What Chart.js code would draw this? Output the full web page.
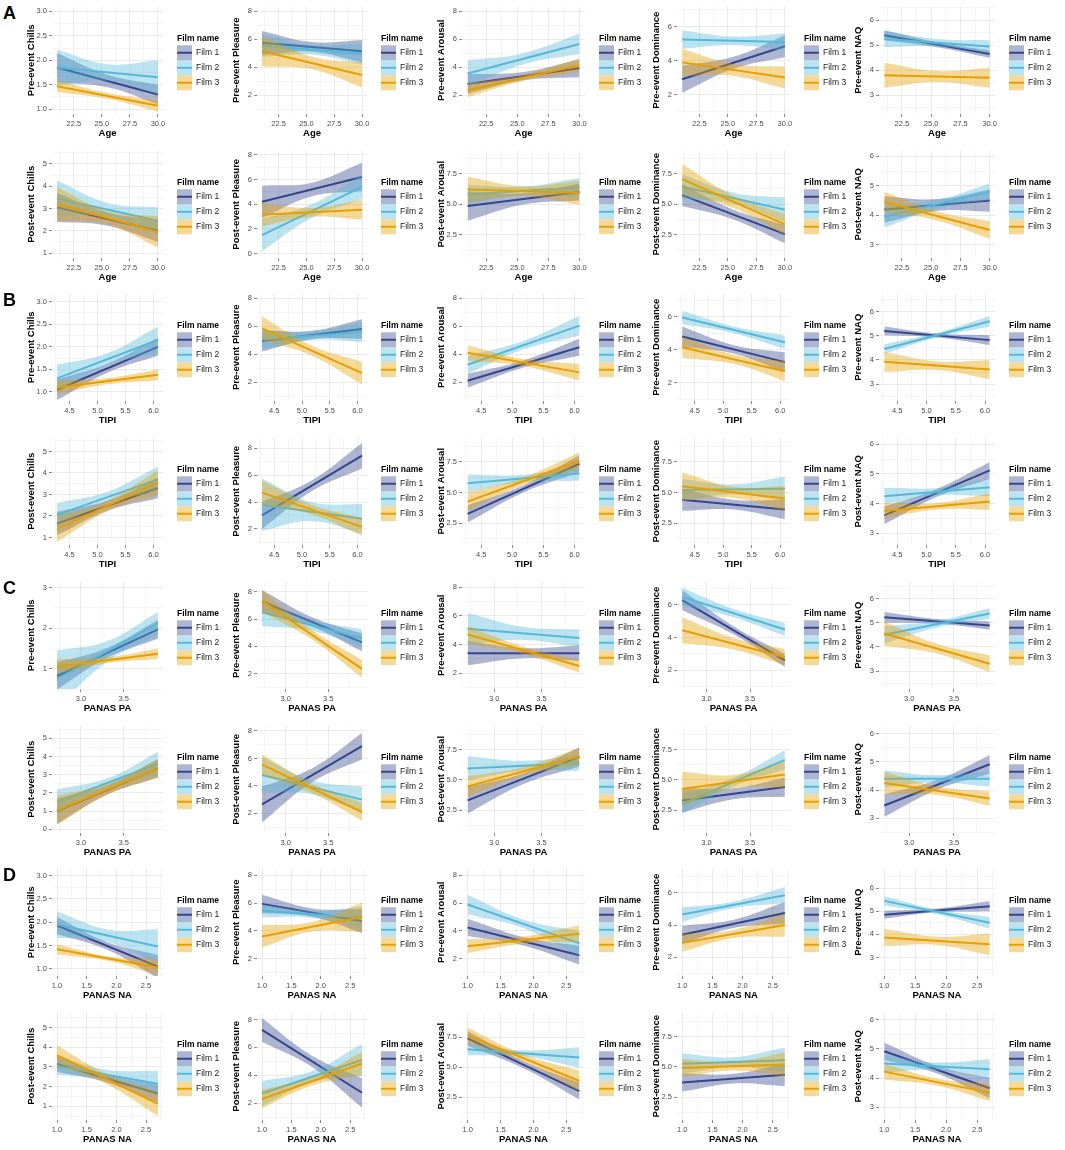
<!DOCTYPE html>
<html>
<head>
<meta charset="utf-8">
<script src="https://cdn.jsdelivr.net/npm/chart.js@4.4.1/dist/chart.umd.min.js"></script>
<style>
  body { margin: 0; background: #fff; width: 1065px; height: 1150px; position: relative; overflow: hidden; }
  canvas { position: absolute; }
  .tag { position: absolute; left: 3px; font: bold 18px/18px "Liberation Sans", Arial, sans-serif; color: #000; }
</style>
</head>
<body>
<script>
// Categories
const filmNames = ['Film 1', 'Film 2', 'Film 3'];
const outcomes = ['Chills', 'Pleasure', 'Arousal', 'Dominance', 'NAQ'];
const predictors = ['Age', 'TIPI', 'PANAS PA', 'PANAS NA'];
const panelTags = ['A', 'B', 'C', 'D'];

// Observed range of each predictor (fit lines run across it)
const xSpan = [[21, 30], [4.28, 6.08], [2.72, 3.9], [1.0, 2.7]];
const xTickLabels = [
    ['22.5', '25.0', '27.5', '30.0'],
    ['4.5', '5.0', '5.5', '6.0'],
    ['3.0', '3.5'],
    ['1.0', '1.5', '2.0', '2.5']
];

// Fitted values per panel, per film: [y at start, y at end, CI half-width at start, middle, end]
const preAge = [
    [[1.85, 1.30, .30, .13, .20], [1.85, 1.65, .37, .17, .35], [1.47, 1.07, .12, .06, .12]],
    [[5.75, 5.15, .85, .35, .80], [5.55, 4.95, .80, .33, .75], [5.15, 3.45, 1.10, .45, .90]],
    [[2.80, 3.93, .70, .30, .65], [3.55, 5.67, .95, .40, .72], [2.35, 4.15, .50, .22, .50]],
    [[2.90, 4.85, .80, .35, .65], [5.25, 5.10, .55, .25, .50], [3.90, 3.00, .80, .35, .65]],
    [[5.40, 4.65, .20, .10, .15], [5.25, 4.95, .33, .15, .25], [3.80, 3.70, .50, .22, .40]]
];
const postAge = [
    [[3.05, 2.00, .65, .30, .50], [3.45, 2.45, .80, .30, .60], [3.20, 1.95, .75, .30, .70]],
    [[4.20, 6.20, 1.30, .55, 1.15], [1.50, 5.40, 1.30, .55, 1.00], [3.15, 3.55, .95, .35, .80]],
    [[4.85, 6.00, 1.20, .45, .70], [5.80, 6.40, .80, .35, .75], [6.20, 5.95, 1.05, .40, 1.00]],
    [[5.75, 2.55, .90, .40, .75], [6.45, 4.55, 1.00, .45, 1.00], [7.05, 3.35, 1.25, .50, .85]],
    [[4.20, 4.50, .45, .20, .38], [3.95, 4.80, .37, .15, .28], [4.45, 3.50, .35, .15, .30]]
];
const preTipi = [
    [[1.05, 2.00, .23, .10, .20], [1.30, 2.15, .30, .13, .30], [1.10, 1.38, .15, .07, .12]],
    [[4.95, 5.80, .75, .30, .70], [5.05, 5.60, .70, .30, .70], [5.85, 2.65, .85, .35, .80]],
    [[2.10, 4.50, .50, .25, .60], [3.25, 6.05, .65, .30, .70], [4.10, 2.70, .55, .25, .60]],
    [[4.80, 3.25, .60, .25, .60], [5.95, 4.45, .40, .20, .40], [4.15, 2.70, .65, .28, .60]],
    [[5.20, 4.82, .18, .08, .20], [4.45, 5.60, .20, .10, .22], [3.92, 3.60, .42, .18, .40]]
];
const postTipi = [
    [[1.65, 3.30, .55, .23, .48], [2.05, 3.70, .55, .25, .60], [1.40, 3.55, .60, .25, .58]],
    [[3.00, 7.45, 1.00, .40, .95], [3.80, 2.75, 1.95, .70, 1.10], [4.70, 2.15, .90, .35, .65]],
    [[3.25, 7.35, .70, .30, .70], [5.75, 6.55, .72, .30, .60], [4.25, 7.60, .75, .30, .70]],
    [[4.40, 3.60, .90, .40, .80], [5.20, 5.30, .90, .40, 1.00], [5.50, 4.50, 1.15, .45, 1.00]],
    [[3.60, 5.12, .30, .13, .28], [4.25, 4.55, .28, .12, .30], [3.75, 4.07, .25, .11, .28]]
];
const prePa = [
    [[0.82, 1.97, .33, .12, .23], [0.75, 2.12, .70, .25, .28], [1.05, 1.37, .18, .07, .13]],
    [[7.30, 4.30, .85, .35, .65], [6.50, 4.60, 1.00, .40, .65], [7.35, 2.35, .80, .35, .65]],
    [[3.40, 3.40, .85, .35, .55], [5.10, 4.45, 1.10, .45, .60], [4.70, 2.50, .60, .25, .45]],
    [[6.30, 2.60, .60, .25, .40], [6.50, 4.50, .55, .25, .40], [4.45, 2.80, .80, .35, .50]],
    [[5.22, 4.88, .22, .10, .17], [4.50, 5.38, .35, .14, .22], [4.55, 3.30, .50, .20, .35]]
];
const postPa = [
    [[1.00, 3.35, .70, .25, .50], [1.50, 3.60, .70, .25, .65], [1.05, 3.35, .80, .30, .50]],
    [[2.65, 6.90, 1.30, .50, .95], [4.80, 3.00, 1.30, .50, .95], [5.55, 2.10, .75, .35, .65]],
    [[3.30, 6.90, 1.10, .45, .80], [5.95, 6.40, 1.00, .40, .65], [4.45, 6.95, .85, .35, .70]],
    [[3.30, 4.40, 1.00, .45, .80], [3.00, 6.65, .80, .35, .80], [4.25, 5.45, 1.45, .55, 1.10]],
    [[3.45, 4.92, .40, .17, .33], [4.40, 4.40, .30, .13, .28], [4.25, 3.70, .40, .15, .25]]
];
const preNa = [
    [[1.93, 1.05, .18, .08, .25], [1.95, 1.48, .28, .13, .37], [1.42, 1.03, .11, .05, .17]],
    [[5.95, 4.70, .65, .30, .85], [5.45, 4.95, .45, .25, .80], [3.60, 5.00, .80, .35, 1.05]],
    [[4.25, 2.25, .62, .30, .68], [5.90, 3.10, .70, .30, .90], [2.90, 3.80, .50, .25, .60]],
    [[3.40, 4.75, .55, .25, .67], [4.65, 5.85, .45, .20, .50], [2.90, 4.00, .55, .25, .72]],
    [[4.85, 5.22, .17, .08, .22], [5.45, 4.50, .20, .10, .25], [3.87, 3.57, .37, .18, .47]]
];
const postNa = [
    [[3.15, 1.65, .40, .20, .45], [3.05, 2.15, .45, .25, .65], [3.60, 1.12, .50, .25, .62]],
    [[7.25, 2.75, .85, .40, 1.05], [2.70, 5.10, .90, .40, 1.15], [2.30, 4.85, .65, .30, .80]],
    [[7.40, 3.00, .60, .30, .70], [6.50, 5.80, .50, .25, .85], [7.65, 3.85, .65, .30, .85]],
    [[3.70, 4.35, .75, .40, .95], [5.25, 5.55, .85, .40, 1.05], [4.90, 5.20, .75, .35, 1.00]],
    [[4.92, 3.65, .30, .13, .35], [4.50, 4.30, .30, .13, .35], [4.22, 3.50, .27, .12, .30]]
];
const fitRows = [preAge, postAge, preTipi, postTipi, prePa, postPa, preNa, postNa];

// Y tick labels
const dec5 = ['1.0', '1.5', '2.0', '2.5', '3.0'];
const int5 = ['1', '2', '3', '4', '5'];
const even8 = ['2', '4', '6', '8'];
const even6 = ['2', '4', '6'];
const quarter = ['2.5', '5.0', '7.5'];
const naqTicks = ['3', '4', '5', '6'];
const yTickLabels = [
    [dec5, even8, even8, even6, naqTicks],
    [int5, ['0', '2', '4', '6', '8'], quarter, quarter, naqTicks],
    [dec5, even8, even8, even6, naqTicks],
    [int5, even8, quarter, quarter, naqTicks],
    [['1', '2', '3'], even8, even8, even6, naqTicks],
    [['0', '1', '2', '3', '4', '5'], even8, quarter, quarter, naqTicks],
    [dec5, even8, even8, even6, naqTicks],
    [int5, even8, quarter, quarter, naqTicks]
];
const yLimits = [
    [[0.9, 3.1], [0.65, 8.35], [0.65, 8.35], [0.85, 7.2], [2.25, 6.55]],
    [[0.78, 5.6], [-0.35, 8.35], [0.6, 9.4], [0.6, 9.4], [2.55, 6.2]],
    [[0.8, 3.18], [0.65, 8.35], [0.65, 8.35], [0.9, 7.4], [2.3, 6.75]],
    [[0.65, 5.65], [0.8, 8.8], [0.7, 9.5], [0.7, 9.5], [2.6, 6.23]],
    [[0.5, 3.15], [0.87, 8.77], [0.9, 8.4], [0.85, 7.44], [2.26, 6.7]],
    [[-0.2, 5.7], [0.57, 8.4], [0.6, 9.5], [0.6, 9.5], [2.47, 6.3]],
    [[0.85, 3.15], [0.75, 8.5], [0.75, 8.5], [0.85, 7.5], [2.2, 6.85]],
    [[0.3, 5.77], [0.8, 8.5], [0.6, 9.55], [0.6, 9.5], [2.56, 6.25]]
];

// Layout / style
const lineColors = ['#34458C', '#56B8D9', '#E69F00'];
const bandColors = ['rgba(52,69,140,0.4)', 'rgba(86,184,217,0.4)', 'rgba(230,159,0,0.4)'];
const rowTops = [0, 144, 287, 431, 575, 719, 862, 1006];
const plotLefts = [52, 257, 462, 677, 879];
const plotRights = [163, 367, 585, 790, 995];
const Y_AXIS_W = 30;
const LEGEND_W = 66;
const CELL_H = 144;

Chart.defaults.font.family = '"Liberation Sans", Arial, Helvetica, sans-serif';
Chart.defaults.color = '#4D4D4D';

// major ticks from labels, minor ticks halfway (ggplot style)
function tickSet(labels, min, max) {
    const majors = labels.map(Number);
    const step = majors[1] - majors[0];
    const out = labels.map((t, i) => ({ value: majors[i], text: t, minor: false }));
    majors.map(v => v - step / 2)
        .concat([majors[majors.length - 1] + step / 2])
        .forEach(v => out.push({ value: v, text: '', minor: true }));
    return out.filter(t => t.value >= min - 1e-9 && t.value <= max + 1e-9)
        .sort((a, b) => a.value - b.value);
}

function axis(labels, min, max, title, isX) {
    return {
        type: 'linear',
        min: min,
        max: max,
        afterBuildTicks: s => { s.ticks = tickSet(labels, min, max); },
        afterFit: s => { if (isX) s.height = 30; else s.width = Y_AXIS_W; },
        ticks: {
            autoSkip: false,
            maxRotation: 0,
            padding: 2,
            color: '#4D4D4D',
            font: { size: 7.5 },
            callback: (v, i, ticks) => ticks[i].text
        },
        grid: {
            color: '#EBEBEB',
            lineWidth: c => (c.tick && c.tick.minor ? 0.5 : 1),
            tickLength: 3,
            tickColor: c => (c.tick && c.tick.minor ? 'rgba(0,0,0,0)' : '#8C8C8C')
        },
        border: { display: false },
        title: {
            display: true,
            text: title,
            color: '#000',
            font: { size: 9.5, weight: 'bold' },
            padding: isX ? { top: 0, bottom: 5 } : { top: 4, bottom: 0 }
        }
    };
}

// ggplot-like legend on the right of each panel
const filmLegend = {
    id: 'filmLegend',
    afterDraw(chart) {
        const { ctx, chartArea } = chart;
        const x = chartArea.right + 14;
        const mid = (chartArea.top + chartArea.bottom) / 2;
        ctx.save();
        ctx.textBaseline = 'middle';
        ctx.textAlign = 'left';
        ctx.fillStyle = '#000';
        ctx.font = 'bold 8.5px "Liberation Sans", Arial, sans-serif';
        ctx.fillText('Film name', x, mid - 22);
        filmNames.forEach((name, i) => {
            const top = mid - 15 + i * 15;
            ctx.fillStyle = bandColors[i];
            ctx.fillRect(x, top, 15, 15);
            ctx.strokeStyle = lineColors[i];
            ctx.lineWidth = 2;
            ctx.beginPath();
            ctx.moveTo(x, top + 7.5);
            ctx.lineTo(x + 15, top + 7.5);
            ctx.stroke();
            ctx.fillStyle = '#1A1A1A';
            ctx.font = '8.5px "Liberation Sans", Arial, sans-serif';
            ctx.fillText(name, x + 19, top + 7.5);
        });
        ctx.restore();
    }
};

function makePanel(r, c) {
    const p = Math.floor(r / 2);
    const isPost = r % 2 === 1;
    const [x0, x1] = xSpan[p];
    const xm = (x0 + x1) / 2;
    const pad = (x1 - x0) * 0.05;
    const [yMin, yMax] = yLimits[r][c];

    const datasets = [];
    fitRows[r][c].forEach((f, i) => {
        const [y0, y1, w0, wm, w1] = f;
        const ym = (y0 + y1) / 2;
        const base = (2 - i) * 2;
        datasets.push({
            data: [{ x: x0, y: y0 - w0 }, { x: xm, y: ym - wm }, { x: x1, y: y1 - w1 }],
            borderWidth: 0, borderColor: 'rgba(0,0,0,0)', pointRadius: 0,
            fill: false, tension: 0.4, order: base + 1
        });
        datasets.push({
            data: [{ x: x0, y: y0 + w0 }, { x: xm, y: ym + wm }, { x: x1, y: y1 + w1 }],
            borderWidth: 0, borderColor: 'rgba(0,0,0,0)', pointRadius: 0,
            fill: '-1', backgroundColor: bandColors[i], tension: 0.4, order: base + 1
        });
        datasets.push({
            data: [{ x: x0, y: y0 }, { x: x1, y: y1 }],
            borderColor: lineColors[i], borderWidth: 2, pointRadius: 0,
            fill: false, order: base
        });
    });

    const left = plotLefts[c] - Y_AXIS_W;
    const width = plotRights[c] - left + LEGEND_W;
    const canvas = document.createElement('canvas');
    canvas.width = width;
    canvas.height = CELL_H;
    canvas.style.left = left + 'px';
    canvas.style.top = rowTops[r] + 'px';
    canvas.style.width = width + 'px';
    canvas.style.height = CELL_H + 'px';
    document.body.appendChild(canvas);

    new Chart(canvas.getContext('2d'), {
        type: 'line',
        data: { datasets: datasets },
        options: {
            responsive: false,
            animation: false,
            events: [],
            devicePixelRatio: 1,
            layout: { padding: { top: 4, right: LEGEND_W, bottom: 0, left: 0 } },
            plugins: { legend: { display: false }, tooltip: { enabled: false } },
            scales: {
                x: axis(xTickLabels[p], x0 - pad, x1 + pad, predictors[p], true),
                y: axis(yTickLabels[r][c], yMin, yMax, (isPost ? 'Post-event ' : 'Pre-event ') + outcomes[c], false)
            }
        },
        plugins: [filmLegend]
    });
}

for (let r = 0; r < 8; r++) {
    for (let c = 0; c < 5; c++) makePanel(r, c);
}

panelTags.forEach((t, i) => {
    const d = document.createElement('div');
    d.className = 'tag';
    d.style.top = (rowTops[i * 2] + 4) + 'px';
    d.textContent = t;
    document.body.appendChild(d);
});
</script>
</body>
</html>
